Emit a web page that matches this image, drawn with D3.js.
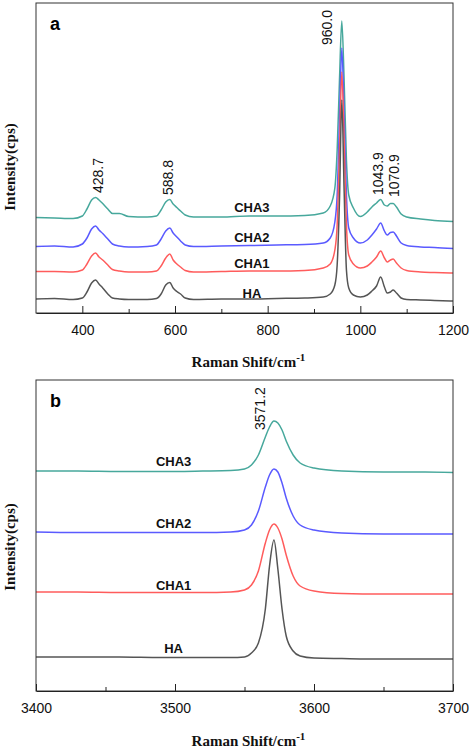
<!DOCTYPE html>
<html>
<head>
<meta charset="utf-8">
<script src="https://cdn.jsdelivr.net/npm/d3@7/dist/d3.min.js"></script>
<style>
  html, body { margin: 0; padding: 0; background: #fff; }
  svg { display: block; }
</style>
</head>
<body>
<script>
// ---------- Panel a data (Raman shift, cm-1) ----------
const shiftA = [300, 340, 380, 400, 410, 420, 428.7, 436, 444, 455, 465, 480, 500, 540, 560, 570, 580, 588.8, 596, 604, 612, 622, 640, 700, 760, 820, 880, 920, 935, 945, 950, 955, 960, 965, 970, 975, 985, 1000, 1015, 1025, 1035, 1043.9, 1052, 1058, 1065, 1070.9, 1078, 1088, 1100, 1130, 1160, 1200];
const haA   = [14, 14.5, 13.5, 15, 21, 30, 33, 29, 25, 19, 15, 14, 13.5, 13.5, 14.5, 19, 28, 30.5, 25, 21.5, 19, 15, 13.5, 14, 14, 14.5, 15, 16, 19, 28, 48, 113, 213, 123, 43, 25, 18, 16, 18, 22, 27, 36, 26, 20, 21, 23, 20, 15, 13.5, 13, 12.5, 12];
const cha1A = [41.5, 41.5, 41, 43, 49, 57, 60, 56, 53, 48, 43.5, 42, 41, 41, 42, 47, 55, 59, 53, 49, 46, 42.5, 41, 41.5, 42, 42, 42.5, 45, 49, 63, 88, 163, 241, 173, 88, 58, 49, 45, 47, 51, 56, 62, 55, 51, 53, 54, 50, 45, 42.5, 41, 40.5, 40];
const cha2A = [66.5, 67, 66, 69, 75, 84, 87, 83, 79.5, 74, 69, 67, 66, 66.5, 68, 74, 82, 85, 80, 76, 72, 68, 66.5, 67, 67.5, 68, 68.5, 70, 75, 91, 118, 193, 265, 198, 118, 85, 75, 70, 73, 78, 84, 90, 82, 78, 80.5, 81, 77, 70, 67.5, 66, 65.5, 64.5];
const cha3A = [95.5, 95, 94.5, 97, 104, 113, 115.5, 113, 109.5, 104, 99.5, 99.5, 96.5, 96, 97, 103, 111, 113.5, 109, 105.5, 102, 98, 96, 96, 97, 97, 97.5, 100, 107, 125, 163, 233, 292, 233, 153, 118, 105, 96.5, 101, 106, 110, 113.5, 108, 107, 109.5, 109.5, 106, 99, 96, 94, 92.5, 91.5];
const peakLabelsA = [428.7, 588.8, 960.0, 1043.9, 1070.9];
const ticksA = [400, 600, 800, 1000, 1200];
const minorTicksA = [500, 700, 900, 1100];

// ---------- Panel b data ----------
const shiftB = [3400, 3430, 3460, 3490, 3520, 3540, 3550, 3555, 3560, 3565, 3568, 3571.2, 3574, 3577, 3580, 3585, 3590, 3600, 3620, 3650, 3680, 3700];
const haB   = [34, 34, 34, 33.5, 33.5, 33.5, 34, 38, 48, 82, 125, 151, 122, 82, 55, 40, 35, 33, 32.5, 32, 32, 32];
const cha1B = [99, 99, 98.5, 98.5, 98.5, 99, 101, 106, 120, 148, 161, 167, 163, 152, 136, 115, 105, 100, 97.5, 97, 97, 97];
const cha2B = [159, 158.5, 158.5, 158.5, 158.5, 159, 161, 166, 180, 204, 216, 222, 219, 208, 193, 175, 166, 161, 158, 157, 157, 157];
const cha3B = [220, 220, 219.5, 219.5, 220, 220.5, 222, 226, 236, 254, 264, 270, 268, 261, 250, 236, 228, 223, 220, 219, 219, 218.5];
const peakLabelsB = [3571.2];
const ticksB = [3400, 3500, 3600, 3700];
const minorTicksB = [3450, 3550, 3650];

const seriesNames = ["HA", "CHA1", "CHA2", "CHA3"];
const colors = {HA: "#555555", CHA1: "#ff5c5c", CHA2: "#5a5aff", CHA3: "#47a89c"};

const svg = d3.select("body").append("svg").attr("width", 472).attr("height", 750);

function panel(opts) {
  const {top, bottom, left, right, xDomain, yDomain, shifts, series, ticks, minor,
         letter, peaks, peakPos, labelX, labelY, titleY, yTitleY} = opts;
  const x = d3.scaleLinear().domain(xDomain).range([left, right]);
  const y = d3.scaleLinear().domain(yDomain).range([bottom, top]);
  const g = svg.append("g");

  const line = d3.line().x(d => x(d[0])).y(d => y(d[1])).curve(d3.curveMonotoneX);
  ["CHA3", "CHA2", "CHA1", "HA"].forEach(name => {
    const vals = series[name];
    g.append("path")
      .datum(shifts.map((s, i) => [s, vals[i]]))
      .attr("fill", "none")
      .attr("stroke", colors[name])
      .attr("stroke-width", 1.5)
      .attr("stroke-linejoin", "round")
      .attr("d", line);
  });

  g.append("rect").attr("x", left).attr("y", top)
    .attr("width", right - left).attr("height", bottom - top)
    .attr("fill", "none").attr("stroke", "#333").attr("stroke-width", 1);

  const ax = g.append("g").attr("transform", `translate(0,${bottom})`)
    .call(d3.axisBottom(x).tickValues(ticks).tickSizeInner(-7).tickSizeOuter(0).tickPadding(12).tickFormat(d3.format("d")));
  ax.select(".domain").attr("stroke", "#222");
  ax.selectAll(".tick line").attr("stroke", "#222");
  ax.selectAll("text").attr("font-family", "Liberation Sans, Arial, sans-serif")
    .attr("font-size", 14).attr("fill", "#111");
  const mx = g.append("g").attr("transform", `translate(0,${bottom})`)
    .call(d3.axisBottom(x).tickValues(minor).tickSizeInner(-4).tickSizeOuter(0).tickFormat(""));
  mx.select(".domain").remove();
  mx.selectAll(".tick line").attr("stroke", "#222");

  const t = g.append("text").attr("x", (left + right) / 2 + 4).attr("y", titleY)
    .attr("text-anchor", "middle")
    .attr("font-family", "Liberation Serif, Times New Roman, serif")
    .attr("font-weight", "bold").attr("font-size", 15).attr("fill", "#111");
  t.append("tspan").text("Raman Shift/cm");
  t.append("tspan").attr("dy", -6).attr("font-size", 11).text("-1");

  g.append("text")
    .attr("transform", `translate(15,${yTitleY}) rotate(-90)`)
    .attr("text-anchor", "middle")
    .attr("font-family", "Liberation Serif, Times New Roman, serif")
    .attr("font-weight", "bold").attr("font-size", 15).attr("fill", "#111")
    .text("Intensity(cps)");

  g.append("text").attr("x", left + 14).attr("y", top + 27)
    .attr("font-family", "Liberation Sans, Arial, sans-serif")
    .attr("font-weight", "bold").attr("font-size", 18).attr("fill", "#000")
    .text(letter);

  seriesNames.forEach(name => {
    g.append("text").attr("x", x(labelX)).attr("y", y(labelY[name]))
      .attr("dy", "0.35em").attr("text-anchor", "middle")
      .attr("font-family", "Liberation Sans, Arial, sans-serif")
      .attr("font-weight", "bold").attr("font-size", 13).attr("fill", "#111")
      .text(name);
  });

  peaks.forEach((p, i) => {
    const pos = peakPos[i];
    g.append("text")
      .attr("transform", `translate(${x(pos[0])},${y(pos[1])}) rotate(-90)`)
      .attr("dy", "0.35em")
      .attr("font-family", "Liberation Sans, Arial, sans-serif")
      .attr("font-size", 14).attr("fill", "#111")
      .text(d3.format(".1f")(p));
  });
}

panel({
  top: 3, bottom: 313, left: 36, right: 453,
  xDomain: [300, 1200], yDomain: [0, 310],
  shifts: shiftA,
  series: {HA: haA, CHA1: cha1A, CHA2: cha2A, CHA3: cha3A},
  ticks: ticksA, minor: minorTicksA, letter: "a",
  peaks: peakLabelsA,
  peakPos: [[434, 120], [585, 118], [929, 268], [1038, 118], [1073, 116]],
  labelX: 766, labelY: {HA: 20, CHA1: 50, CHA2: 76, CHA3: 106},
  titleY: 367, yTitleY: 167
});

panel({
  top: 380, bottom: 691, left: 36, right: 453,
  xDomain: [3400, 3700], yDomain: [0, 311],
  shifts: shiftB,
  series: {HA: haB, CHA1: cha1B, CHA2: cha2B, CHA3: cha3B},
  ticks: ticksB, minor: minorTicksB, letter: "b",
  peaks: peakLabelsB,
  peakPos: [[3561, 261]],
  labelX: 3499, labelY: {HA: 43, CHA1: 106, CHA2: 168, CHA3: 230},
  titleY: 746, yTitleY: 547
});
</script>
</body>
</html>
